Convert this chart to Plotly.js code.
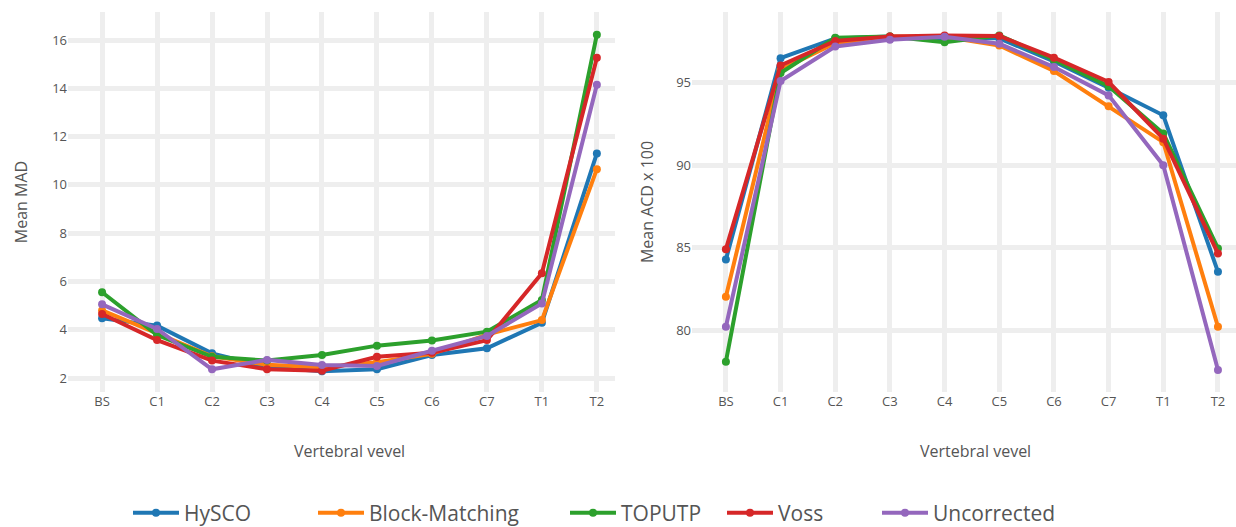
<!DOCTYPE html>
<html>
<head>
<meta charset="utf-8">
<script src="https://cdn.plot.ly/plotly-3.0.1.min.js"></script>
<style>html,body{margin:0;padding:0;background:#fff;}#chart{width:1236px;height:527px;}</style>
</head>
<body>
<div id="chart"></div>
<script>
const levels = ["BS","C1","C2","C3","C4","C5","C6","C7","T1","T2"];
const seriesNames = ["HySCO","Block-Matching","TOPUTP","Voss","Uncorrected"];

// Mean MAD (left panel)
const madHySCO         = [4.47, 4.17, 3.02, 2.45, 2.28, 2.36, 2.95, 3.23, 4.29, 11.3];
const madBlockMatching = [4.80, 3.85, 2.90, 2.55, 2.45, 2.65, 3.00, 3.80, 4.40, 10.65];
const madTOPUTP        = [5.55, 3.78, 2.88, 2.72, 2.95, 3.34, 3.55, 3.92, 5.23, 16.22];
const madVoss          = [4.65, 3.57, 2.72, 2.36, 2.30, 2.88, 3.05, 3.57, 6.34, 15.26];
const madUncorrected   = [5.05, 4.03, 2.36, 2.75, 2.54, 2.50, 3.13, 3.74, 5.09, 14.15];

// Mean ACD x 100 (right panel)
const acdHySCO         = [84.28, 96.50, 97.70, 97.82, 97.70, 97.70, 96.30, 94.70, 93.03, 83.53];
const acdBlockMatching = [82.02, 95.80, 97.40, 97.82, 97.80, 97.27, 95.72, 93.58, 91.40, 80.20];
const acdTOPUTP        = [78.08, 95.60, 97.74, 97.82, 97.47, 97.88, 96.40, 94.80, 91.92, 84.95];
const acdVoss          = [84.91, 96.06, 97.54, 97.82, 97.88, 97.85, 96.53, 95.05, 91.61, 84.65];
const acdUncorrected   = [80.20, 95.11, 97.21, 97.62, 97.80, 97.37, 95.96, 94.24, 90.00, 77.58];

const colors = ["#1f77b4","#ff7f0e","#2ca02c","#d62728","#9467bd"];
const madSeries = [madHySCO, madBlockMatching, madTOPUTP, madVoss, madUncorrected];
const acdSeries = [acdHySCO, acdBlockMatching, acdTOPUTP, acdVoss, acdUncorrected];
const legendIds = ["legend","legend2","legend3","legend4","legend5"];

const traces = [];
seriesNames.forEach((name, i) => {
  traces.push({
    x: levels, y: madSeries[i], name: name, type: "scatter", mode: "lines+markers",
    xaxis: "x", yaxis: "y", legendgroup: name, showlegend: true, legend: legendIds[i],
    line: {color: colors[i], width: 4}, marker: {color: colors[i], size: 8}
  });
});
seriesNames.forEach((name, i) => {
  traces.push({
    x: levels, y: acdSeries[i], name: name, type: "scatter", mode: "lines+markers",
    xaxis: "x2", yaxis: "y2", legendgroup: name, showlegend: false,
    line: {color: colors[i], width: 4}, marker: {color: colors[i], size: 8}
  });
});

const tickFont = {family: "Open Sans, sans-serif", size: 13, color: "#555"};
const titleFont = {family: "Open Sans, sans-serif", size: 16, color: "#555"};
const gridStyle = {showgrid: true, gridcolor: "#eeeeee", gridwidth: 5, zeroline: false, showline: false, ticks: ""};

const legendStarts = [128, 313, 565, 722, 877];
const legendBase = {
  orientation: "h", xanchor: "left", yref: "container", y: (527-513)/527, yanchor: "middle",
  itemwidth: 46,
  font: {family: "Open Sans, sans-serif", size: 21, color: "#555"},
  bgcolor: "rgba(0,0,0,0)"
};

const layout = {
  width: 1236, height: 527,
  margin: {l: 0, r: 0, t: 12, b: 135, pad: 0},
  paper_bgcolor: "#ffffff", plot_bgcolor: "#ffffff",
  font: {family: "Open Sans, sans-serif", color: "#555"},
  xaxis: Object.assign({}, gridStyle, {
    domain: [68/1236, 615/1236], type: "category", range: [-0.62, 9.33],
    tickfont: tickFont, anchor: "y"
  }),
  yaxis: Object.assign({}, gridStyle, {
    range: [1.42, 17.16], dtick: 2, tick0: 0, tickfont: tickFont, anchor: "x",
    title: {text: "Mean MAD", font: titleFont, standoff: 20}
  }),
  xaxis2: Object.assign({}, gridStyle, {
    domain: [692/1236, 1], type: "category", range: [-0.62, 9.33],
    tickfont: tickFont, anchor: "y2"
  }),
  yaxis2: Object.assign({}, gridStyle, {
    range: [76.24, 99.30], dtick: 5, tick0: 0, tickfont: tickFont, anchor: "x2",
    title: {text: "Mean ACD x 100", font: titleFont, standoff: 18}
  }),
  annotations: [
    {text: "Vertebral vevel", xref: "paper", yref: "paper", x: 349/1236, y: (392-451)/380,
     xanchor: "center", yanchor: "middle", showarrow: false, font: titleFont},
    {text: "Vertebral vevel", xref: "paper", yref: "paper", x: 975/1236, y: (392-451)/380,
     xanchor: "center", yanchor: "middle", showarrow: false, font: titleFont}
  ],
  showlegend: true
};
legendIds.forEach((id, i) => {
  layout[id] = Object.assign({}, legendBase, {x: legendStarts[i]/1236});
});

Plotly.newPlot("chart", traces, layout, {displayModeBar: false, staticPlot: true});
</script>
</body>
</html>
